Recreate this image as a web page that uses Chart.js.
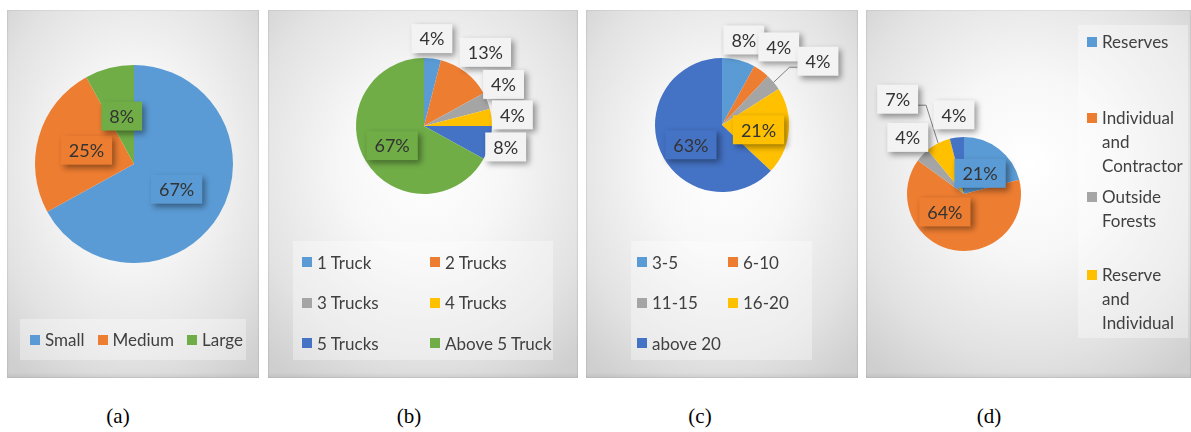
<!DOCTYPE html>
<html>
<head>
<meta charset="utf-8">
<script src="https://cdn.jsdelivr.net/npm/chart.js@4.4.1/dist/chart.umd.min.js"></script>
<style>
    body { margin: 0; width: 1191px; height: 432px; background: #fff; position: relative; overflow: hidden; font-family: Lato, "Open Sans", sans-serif; }
    .panel { position: absolute; top: 10px; height: 368px; background: radial-gradient(ellipse 75% 70% at 50% 42%, #ffffff 0%, #f7f7f7 35%, #e2e2e2 75%, #cfcfcf 100%); box-shadow: inset 0 -3px 3px rgba(0,0,0,0.06), inset 0 0 0 1px rgba(0,0,0,0.05); }
    .panel canvas { position: absolute; left: 0; top: 0; }
    .legend { position: absolute; background: rgba(255,255,255,0.35); color: #404040; font-size: 17px; }
    .item { display: flex; align-items: center; white-space: nowrap; }
    .sw { width: 10px; height: 10px; margin-right: 5px; flex: none; }
    .cap { position: absolute; top: 404px; width: 60px; margin-left: -30px; text-align: center; font-family: "Liberation Serif", serif; font-size: 21px; color: #000; }
</style>
</head>
<body>
<div class="panel" id="pa" style="left:7px;width:252px"><canvas id="ca" width="252" height="368"></canvas></div>
<div class="panel" id="pb" style="left:268px;width:310px"><canvas id="cb" width="310" height="368"></canvas></div>
<div class="panel" id="pc" style="left:586px;width:272px"><canvas id="cc" width="272" height="368"></canvas></div>
<div class="panel" id="pd" style="left:866px;width:325px"><canvas id="cd" width="325" height="368"></canvas></div>
<div class="cap" style="left:118px">(a)</div>
<div class="cap" style="left:409px">(b)</div>
<div class="cap" style="left:700px">(c)</div>
<div class="cap" style="left:989px">(d)</div>
<script>
// --- data ---
const sizeLabels = ['Small', 'Medium', 'Large'];
const sizeValues = [67, 25, 8];

const truckLabels = ['1 Truck', '2 Trucks', '3 Trucks', '4 Trucks', '5 Trucks', 'Above 5 Truck'];
const truckValues = [4, 13, 4, 4, 8, 67];

const tripLabels = ['3-5', '6-10', '11-15', '16-20', 'above 20'];
const tripValues = [8, 4, 4, 21, 63];

const sourceLabels = ['Reserves', 'Individual and Contractor', 'Outside Forests', 'Reserve and Individual', 'Others'];
const sourceValues = [21, 64, 4, 7, 4];

// --- office colours ---
const BLUE = '#5B9BD5', ORANGE = '#ED7D31', GREY = '#A5A5A5', GOLD = '#FFC000', DBLUE = '#4472C4', GREEN = '#70AD47';

// data label plugin: boxes with shadow, optional leader line
const boxLabels = {
    id: 'boxLabels',
    afterDatasetsDraw(chart, args, opts) {
        const ctx = chart.ctx;
        const meta = chart.getDatasetMeta(0);
        const ds = chart.data.datasets[0];
        const boxes = [];
        meta.data.forEach((arc, i) => {
            const p = arc.getProps(['x', 'y', 'startAngle', 'endAngle', 'outerRadius'], true);
            const mid = (p.startAngle + p.endAngle) / 2;
            const a = mid + opts.shift[i] * Math.PI / 180;
            const f = opts.radius[i];
            const cx = p.x + Math.cos(a) * f * p.outerRadius;
            const cy = p.y + Math.sin(a) * f * p.outerRadius;
            boxes.push({ i, cx, cy, inside: f < 1, mid, p });
        });
        ctx.save();
        ctx.font = '18px Lato';
        // leader lines first
        boxes.forEach(b => {
            if (!opts.leader[b.i]) return;
            const txt = ds.data[b.i] + '%';
            const w = ctx.measureText(txt).width + 16;
            const ex = b.p.x + Math.cos(b.mid) * b.p.outerRadius;
            const ey = b.p.y + Math.sin(b.mid) * b.p.outerRadius;
            const side = b.cx > b.p.x ? b.cx - w / 2 : b.cx + w / 2;
            const stub = b.cx > b.p.x ? -8 : 8;
            ctx.strokeStyle = '#7f7f7f';
            ctx.lineWidth = 1;
            ctx.beginPath();
            ctx.moveTo(ex, ey);
            ctx.lineTo(side + stub, b.cy + 6);
            ctx.lineTo(side, b.cy + 6);
            ctx.stroke();
        });
        boxes.forEach(b => {
            const txt = ds.data[b.i] + '%';
            const w = ctx.measureText(txt).width + 16;
            const h = 29;
            ctx.save();
            ctx.shadowColor = 'rgba(0,0,0,0.4)';
            ctx.shadowBlur = 6;
            ctx.shadowOffsetX = 3;
            ctx.shadowOffsetY = 3;
            ctx.fillStyle = b.inside ? ds.backgroundColor[b.i] : '#f3f3f3';
            ctx.fillRect(b.cx - w / 2, b.cy - h / 2, w, h);
            ctx.restore();
            ctx.fillStyle = '#333333';
            ctx.textAlign = 'center';
            ctx.textBaseline = 'middle';
            ctx.fillText(txt, b.cx, b.cy + 1);
        });
        ctx.restore();
    }
};

function makePie(id, labels, values, colors, padding, labelOpts) {
    return new Chart(document.getElementById(id), {
        type: 'pie',
        data: { labels: labels, datasets: [{ data: values, backgroundColor: colors, borderWidth: 0 }] },
        options: {
            responsive: false,
            animation: false,
            events: [],
            layout: { padding: padding },
            plugins: { legend: { display: false }, tooltip: { enabled: false }, boxLabels: labelOpts }
        },
        plugins: [boxLabels]
    });
}

const colorsA = [BLUE, ORANGE, GREEN];
const colorsB = [BLUE, ORANGE, GREY, GOLD, DBLUE, GREEN];
const colorsC = [BLUE, ORANGE, GREY, GOLD, DBLUE];
const colorsD = [BLUE, ORANGE, GREY, GOLD, DBLUE];

makePie('ca', sizeLabels, sizeValues, colorsA, { left: 28, right: 26, top: 54, bottom: 114 },
    { radius: [0.5, 0.5, 0.5], shift: [0, 0, 0], leader: [0, 0, 0] });
makePie('cb', truckLabels, truckValues, colorsB, { left: 88, right: 86, top: 48, bottom: 184 },
    { radius: [1.29, 1.41, 1.32, 1.31, 1.24, 0.55], shift: [-2, 2, -6, 0, 0, -1], leader: [0, 0, 0, 0, 0, 0] });
makePie('cc', tripLabels, tripValues, colorsC, { left: 69, right: 69, top: 48, bottom: 186 },
    { radius: [1.31, 1.44, 1.72, 0.55, 0.55], shift: [0, 0, 6, 2, -9], leader: [0, 0, 1, 0, 0] });
makePie('cd', sourceLabels, sourceValues, colorsD, { left: 41, right: 170, top: 127, bottom: 127 },
    { radius: [0.46, 0.46, 1.4, 2.03, 1.4], shift: [0, 36, 2, -8, 0], leader: [0, 0, 0, 1, 0] });

// --- HTML legends built from the label arrays ---
function legend(panelId, labels, colors, style, itemStyle, skip) {
    const box = document.createElement('div');
    box.className = 'legend';
    box.style.cssText = style;
    labels.forEach((l, i) => {
        if (skip && skip.includes(i)) return;
        const it = document.createElement('div');
        it.className = 'item';
        it.style.cssText = typeof itemStyle === 'function' ? itemStyle(i) : itemStyle;
        it.innerHTML = `<span class="sw" style="background:${colors[i]}"></span><span class="tx">${l}</span>`;
        box.appendChild(it);
    });
    document.getElementById(panelId).appendChild(box);
    return box;
}

legend('pa', sizeLabels, colorsA,
    'left:13px;top:309px;width:226px;height:41px;display:flex;align-items:center;padding-left:10px;box-sizing:border-box;',
    i => i > 0 ? 'margin-left:13px' : '');
legend('pb', truckLabels, colorsB,
    'left:25px;top:231px;width:260px;height:119px;display:grid;grid-template-columns:128px 128px;grid-auto-rows:40.5px;padding:1px 0 0 9px;box-sizing:border-box;',
    '');
legend('pc', tripLabels, colorsC,
    'left:45px;top:231px;width:181px;height:119px;display:grid;grid-template-columns:91px 91px;grid-auto-rows:40.5px;padding:1px 0 0 6px;box-sizing:border-box;',
    '');
const dTops = [5, 81, 160, 238];
const ld = legend('pd', sourceLabels, colorsD,
    'left:212px;top:15px;width:110px;height:313px;',
    i => `position:absolute;left:9px;top:${dTops[i]}px;align-items:flex-start;white-space:normal;line-height:24px;`,
    [4]);
ld.querySelectorAll('.tx').forEach(t => t.style.width = 'min-content');
ld.querySelectorAll('.sw').forEach(s => s.style.marginTop = '7px');
</script>
</body>
</html>
